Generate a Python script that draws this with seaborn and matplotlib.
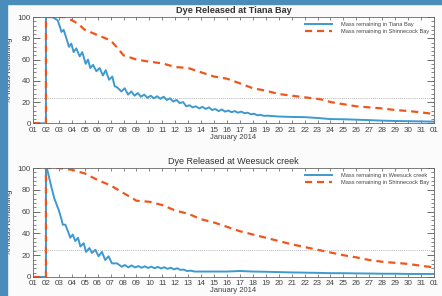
import numpy as np
import pandas as pd
import seaborn as sns
import matplotlib.pyplot as plt
from matplotlib.patches import Rectangle
from matplotlib.ticker import MultipleLocator

# --- data (day of January, % mass remaining) ---
tiana_t = [1.0, 2.0, 2.0, 2.5, 2.9, 3.05, 3.2, 3.37, 3.58, 3.78, 3.96, 4.14, 4.35, 4.61, 4.81,
           5.07, 5.25, 5.43, 5.64, 5.9, 6.15, 6.41, 6.62, 6.88, 7.13, 7.31, 7.49, 7.83, 8.09,
           8.35, 8.6, 8.85, 9.1, 9.35, 9.6, 9.85, 10.1, 10.35, 10.6, 10.85, 11.1, 11.35, 11.6,
           11.85, 12.1, 12.35, 12.6, 12.85, 13.1, 13.35, 13.6, 13.85, 14.1, 14.35, 14.6, 14.85,
           15.1, 15.35, 15.6, 15.85, 16.1, 16.35, 16.6, 16.85, 17.1, 17.35, 17.6, 17.85, 18.1,
           18.35, 18.6, 18.85, 19.1, 20, 21, 22, 23, 24, 25, 26, 27, 28, 29, 30, 31, 32]
tiana_v = [0, 0, 100, 100, 97, 92, 86, 88, 80, 72, 75, 67, 70.5, 63, 67,
           56, 60, 52, 55, 49, 52, 45, 50, 41, 44, 35, 34, 30, 33,
           27, 30, 26, 28.5, 25, 27, 24, 26, 23.5, 25.5, 23, 25, 22, 23.5,
           20.5, 22, 19, 20, 16, 17, 15, 16, 14, 15.5, 13.5, 15, 12.5,
           13.5, 11.5, 13, 11, 12, 10.5, 11.5, 10, 11, 9.5, 10, 8.5, 9,
           7.5, 8, 7, 7.2, 6.4, 6, 5.8, 5, 4, 3.8, 3.4, 3, 2.5, 2.2, 2, 1.8, 1.6]

shin1_t = [1, 2, 2, 3.5, 4, 4.45, 5, 6, 7, 7.45, 8, 9, 10, 11, 12, 13, 14, 15, 16, 17,
           18, 19, 20, 21, 22, 23, 23.5, 24, 25, 26, 27, 28, 29, 30, 31, 32]
shin1_v = [0, 0, 100, 100, 97, 94, 88, 83, 78, 72, 64, 60, 58, 56.4, 53, 52, 48, 44, 42, 37.6,
           33, 30.7, 27.6, 26, 24.5, 23, 22, 20, 18, 16, 15, 14, 12.5, 11.6, 10.3, 8.8]

wees_t = [1, 2, 2, 2.05, 2.13, 2.39, 2.65, 3.0, 3.2, 3.3, 3.5, 3.7, 3.88, 4.07, 4.27, 4.48,
          4.66, 4.92, 5.1, 5.36, 5.56, 5.82, 6.07, 6.33, 6.58, 6.84, 7.1, 7.5, 7.87, 8.1, 8.37,
          8.63, 8.89, 9.15, 9.4, 9.65, 9.9, 10.15, 10.4, 10.65, 10.9, 11.15, 11.4, 11.65, 11.9,
          12.15, 12.4, 12.65, 12.9, 13.2, 13.5, 14, 15, 16, 17, 18, 19, 20, 21, 22, 23, 24, 25,
          26, 27, 28, 29, 30, 31, 32]
wees_v = [0, 0, 100, 100, 97, 84, 72, 61, 53, 48, 48, 42, 36, 39, 33, 36,
          28, 31, 23, 26.5, 22, 25, 19, 23, 15.6, 19, 12.5, 12.5, 9.4, 11, 8.8,
          10.6, 8.8, 10, 8.5, 9.8, 8.3, 9.5, 8, 9.3, 7.8, 9, 7.5, 8.5, 7,
          8, 6.5, 6.8, 5.5, 5.8, 5, 5, 5, 5, 5.5, 5, 4.8, 4.5, 4.2, 4, 3.8, 3.5, 3.5,
          3.3, 3.2, 3, 3, 2.8, 2.8, 2.8]

shin2_t = [1, 2, 2, 3, 4, 5, 6, 7, 8, 9, 10, 11, 12, 13, 14, 15, 16, 17, 18, 19, 20,
           21, 22, 23, 24, 25, 26, 27, 28, 29, 30, 31, 32]
shin2_v = [0, 0, 100, 100, 98.4, 95, 89, 84, 77, 70, 69, 66, 61, 58, 53, 50, 46, 42, 39, 36, 33,
           30, 27.5, 25, 22.5, 20, 18, 15.6, 14, 13, 12, 10.3, 8.8]

day_labels = [f"{d:02d}" for d in range(1, 32)] + ["01"]

blue = "#3d9ad1"
orange = "#f0561c"
dash = (0, (3.2, 2.2))

plt.rcParams["font.family"] = ["Liberation Sans", "DejaVu Sans"]
fig = plt.figure(figsize=(4.42, 2.96), dpi=100)
fig.patch.set_facecolor("#fbfbfb")

# blue frame around the figure
fig.patches.append(Rectangle((0, 0.988), 1, 0.012, transform=fig.transFigure,
                             color="#4a8cba", zorder=0))
fig.patches.append(Rectangle((0, 0), 0.015, 1, transform=fig.transFigure,
                             color="#4a8cba", zorder=0))

ax1 = fig.add_axes([0.0747, 0.5834, 0.907, 0.359])
ax2 = fig.add_axes([0.0747, 0.0642, 0.907, 0.3682])

panels = [
    (ax1, tiana_t, tiana_v, "Mass remaining in Tiana Bay", shin1_t, shin1_v,
     "Dye Released at Tiana Bay", 24, dict(fontsize=6.6, fontweight="bold")),
    (ax2, wees_t, wees_v, "Mass remaining in Weesuck creek", shin2_t, shin2_v,
     "Dye Released at Weesuck creek", 25, dict(fontsize=6.5)),
]

for ax, bt, bv, blab, ot, ov, title, ref, tkw in panels:
    ax.set_facecolor("white")
    ax.axhline(ref, color="#9a9a9a", lw=0.6, ls=(0, (1, 1.5)), zorder=1)
    sns.lineplot(x=bt, y=bv, ax=ax, color=blue, lw=1.4, label=blab,
                 estimator=None, sort=False)
    sns.lineplot(x=ot, y=ov, ax=ax, color=orange, lw=1.6, linestyle=dash,
                 label="Mass remaining in Shinnecock Bay", estimator=None, sort=False)
    ax.set_xlim(1, 32)
    ax.set_ylim(0, 100)
    ax.set_xticks(range(1, 33))
    ax.set_xticklabels(day_labels)
    ax.yaxis.set_major_locator(MultipleLocator(20))
    ax.yaxis.set_minor_locator(MultipleLocator(4))
    ax.tick_params(axis="x", direction="in", length=2.5, width=0.5, top=True,
                   labelsize=5.8, labelcolor="#444444", pad=2.5, color="#555555")
    ax.tick_params(axis="y", which="major", direction="in", length=5, width=0.6, right=True,
                   labelsize=5.8, labelcolor="#444444", pad=1.5, color="#555555")
    ax.tick_params(axis="y", which="minor", direction="in", length=2.5, width=0.5, right=True,
                   color="#555555")
    # lift the "0" label a little so it clears the first day label
    ax.yaxis.get_major_ticks()[0].label1.set_verticalalignment("bottom")
    for s in ax.spines.values():
        s.set_linewidth(0.6)
        s.set_color("#666666")
    ax.set_xlabel("January 2014", fontsize=5.5, color="#444444", labelpad=0)
    ax.set_ylabel("% mass remaining", fontsize=5.8, color="#333333")
    ax.yaxis.set_label_coords(-0.05, 0.5)
    ax.set_title(title, color="#333333", pad=3, **tkw)
    leg = ax.legend(loc="upper right", frameon=False, fontsize=4.1, handlelength=4.8,
                    borderaxespad=0.4, labelspacing=0.45, handletextpad=1.6)
    for t in leg.get_texts():
        t.set_color("#444444")

fig.savefig("out.png", dpi=100, facecolor=fig.get_facecolor())
